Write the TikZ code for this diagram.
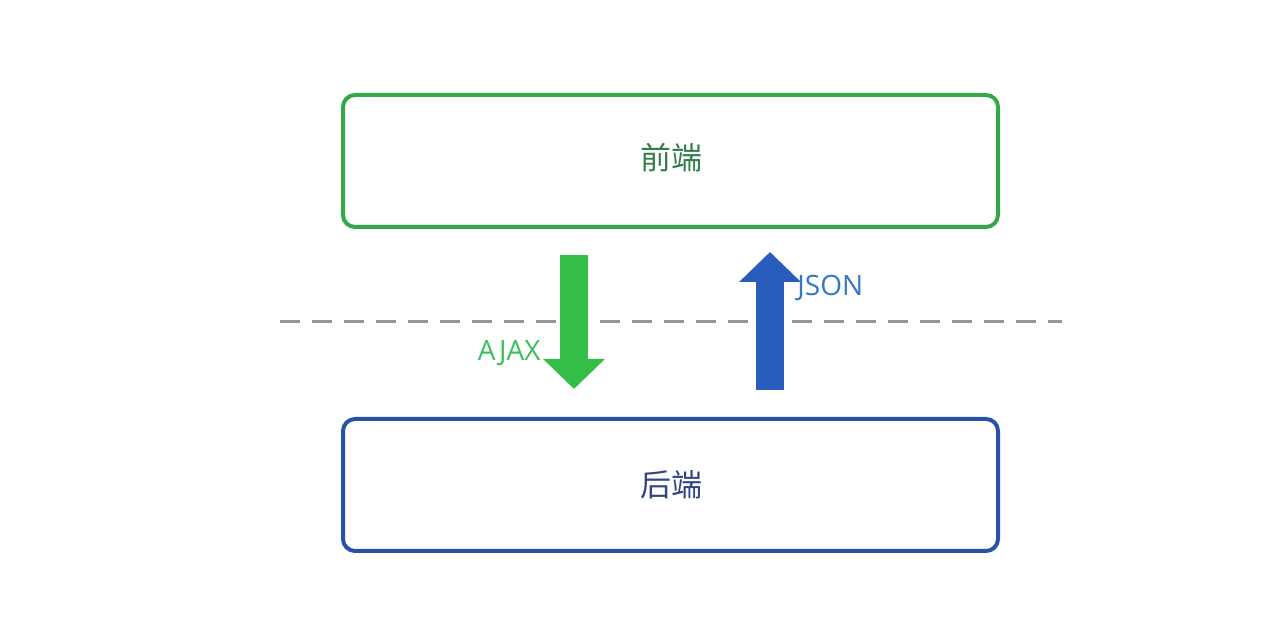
\documentclass[tikz,border=0pt]{standalone}
\usepackage{fontspec}
\setmainfont{Open Sans}
\newfontfamily\cjk{Noto Sans CJK SC}
\usetikzlibrary{arrows.meta}
\definecolor{gbox}{RGB}{52,168,72}
\definecolor{bbox}{RGB}{40,82,168}
\definecolor{garrow}{RGB}{52,190,72}
\definecolor{barrow}{RGB}{42,92,190}
\definecolor{gtext}{RGB}{50,125,75}
\definecolor{btext}{RGB}{50,70,135}
\definecolor{ajaxc}{RGB}{60,190,90}
\definecolor{jsonc}{RGB}{50,120,195}
\definecolor{dashc}{RGB}{150,150,150}
\tikzset{
  layerbox/.style={draw, line width=2pt, rounded corners=6pt, minimum width=327.5pt, minimum height=66pt, inner sep=0pt},
  blockarrow/.style={line width=14pt, -{Triangle[width=30pt,length=15pt]}},
  lbl/.style={font=\fontsize{14}{16}\selectfont, inner sep=0pt},
  cjklbl/.style={font=\cjk\fontsize{15.5}{17}\selectfont, inner sep=0pt}
}
\begin{document}
\begin{tikzpicture}[x=0.5pt,y=-0.5pt]
\useasboundingbox (0,0) rectangle (1280,640);
\node[layerbox, draw=gbox] (fe) at (670.5,161) {};
\node[cjklbl, text=gtext] (fet) at (671,158) {前端};
\node[layerbox, draw=bbox] (be) at (670.5,485) {};
\node[cjklbl, text=btext] (bet) at (671,485) {后端};
\coordinate (dl) at (280,322);
\coordinate (dr) at (1062,322);
\draw[dashc, line width=1.5pt, dash pattern=on 10pt off 6pt] (dl) -- (dr);
\coordinate (a1) at (574,255);
\coordinate (a2) at (574,389);
\draw[blockarrow, garrow] (a1) -- (a2);
\coordinate (j1) at (770,390);
\coordinate (j2) at (770,252);
\draw[blockarrow, barrow] (j1) -- (j2);
\node[lbl, text=ajaxc, anchor=east] (ajax) at (541,353) {AJAX};
\node[lbl, text=jsonc, anchor=west] (json) at (797,288) {JSON};
\end{tikzpicture}
\end{document}
